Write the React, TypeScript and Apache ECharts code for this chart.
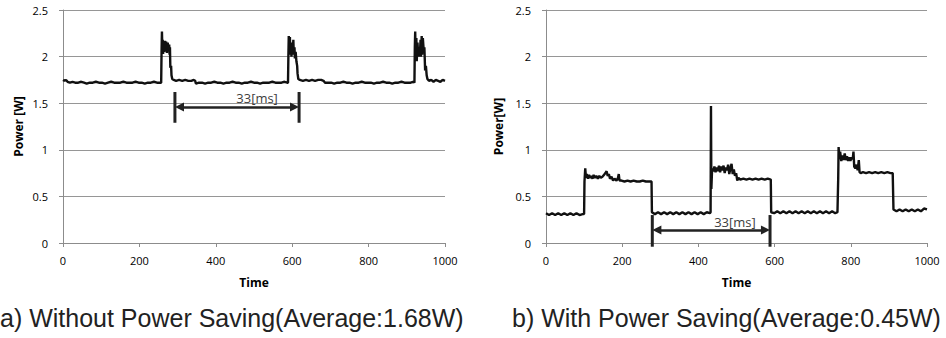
import React, { useEffect, useRef } from "react";
import * as echarts from "echarts";

// ---------- data ----------
const captionA = "a) Without Power Saving(Average:1.68W)";
const captionB = "b) With Power Saving(Average:0.45W)";
const yNameA = "Power [W]";
const yNameB = "Power[W]";
const xName = "Time";
const spanLabel = "33[ms]";

const xMin = 0;
const xMax = 1000;
const xStep = 200;
const yMin = 0;
const yMax = 2.5;
const yStep = 0.5;

// (a) Without power saving: [time, power W]
const powerA: [number, number][] = [
  [0, 1.75], [4, 1.74], [8, 1.75], [12, 1.73], [18, 1.72], [25, 1.73], [32, 1.72], [40, 1.72], [48, 1.73], [55, 1.72],
  [62, 1.71], [70, 1.72], [78, 1.72], [86, 1.73], [94, 1.72], [102, 1.72], [110, 1.71], [118, 1.72], [126, 1.73], [134, 1.72],
  [142, 1.72], [150, 1.72], [158, 1.73], [166, 1.72], [174, 1.72], [182, 1.72], [190, 1.73], [198, 1.72], [206, 1.72], [214, 1.71],
  [222, 1.72], [230, 1.72], [238, 1.73], [246, 1.72], [254, 1.72], [257, 1.72], [258, 2.05], [259, 2.27], [260, 2.1], [261, 2.18],
  [262, 2.03], [264, 2.16], [265, 2.05], [267, 2.17], [268, 2.08], [270, 2.16], [272, 2.04], [274, 2.15], [276, 2.1], [278, 2.13],
  [279, 2.02], [280, 2.1], [281, 1.88], [283, 1.9], [284, 1.8], [286, 1.76], [290, 1.75], [296, 1.74], [304, 1.75], [312, 1.74],
  [320, 1.75], [328, 1.74], [336, 1.74], [342, 1.75], [346, 1.74], [348, 1.71], [356, 1.72], [364, 1.72], [372, 1.71], [380, 1.72],
  [388, 1.72], [396, 1.73], [404, 1.72], [412, 1.72], [420, 1.71], [428, 1.72], [436, 1.72], [444, 1.73], [452, 1.72], [460, 1.72],
  [468, 1.71], [476, 1.72], [484, 1.72], [492, 1.73], [500, 1.72], [508, 1.72], [516, 1.71], [524, 1.72], [532, 1.72], [540, 1.72],
  [548, 1.73], [556, 1.72], [564, 1.72], [572, 1.72], [580, 1.73], [587, 1.72], [589, 1.72], [590, 2.0], [591, 2.22], [592, 2.05],
  [594, 2.21], [595, 2.02], [597, 2.15], [598, 2.0], [600, 2.12], [601, 2.02], [603, 2.18], [604, 2.05], [606, 2.1], [607, 1.98],
  [609, 2.05], [611, 1.95], [613, 1.9], [614, 1.82], [616, 1.76], [620, 1.75], [628, 1.74], [636, 1.75], [644, 1.74], [652, 1.75],
  [660, 1.74], [668, 1.75], [676, 1.75], [682, 1.74], [686, 1.72], [694, 1.72], [702, 1.72], [710, 1.71], [718, 1.72], [726, 1.72],
  [734, 1.73], [742, 1.72], [750, 1.72], [758, 1.71], [766, 1.72], [774, 1.72], [782, 1.73], [790, 1.72], [798, 1.72], [806, 1.72],
  [814, 1.71], [822, 1.72], [830, 1.72], [838, 1.73], [846, 1.72], [854, 1.72], [862, 1.71], [870, 1.72], [878, 1.72], [886, 1.73],
  [894, 1.72], [902, 1.72], [910, 1.72], [918, 1.73], [920, 1.72], [921, 2.1], [922, 2.27], [923, 2.0], [925, 2.2], [926, 1.95],
  [928, 2.15], [930, 2.0], [932, 2.1], [934, 2.0], [936, 2.18], [937, 2.0], [939, 2.22], [940, 2.02], [942, 2.2], [944, 2.08],
  [946, 2.1], [948, 1.85], [950, 1.9], [952, 1.8], [954, 1.76], [958, 1.74], [964, 1.75], [970, 1.73], [976, 1.75], [982, 1.74],
  [988, 1.73], [994, 1.75], [1000, 1.74],
];

// (b) With power saving: [time, power W]
const powerB: [number, number][] = [
  [0, 0.32], [8, 0.3], [16, 0.32], [24, 0.3], [32, 0.32], [40, 0.3], [48, 0.32], [56, 0.3], [64, 0.32], [72, 0.3],
  [80, 0.32], [88, 0.3], [96, 0.31], [100, 0.31], [101, 0.66], [103, 0.8], [105, 0.7], [107, 0.74], [110, 0.69], [113, 0.73],
  [116, 0.7], [119, 0.72], [122, 0.69], [125, 0.73], [128, 0.7], [132, 0.72], [136, 0.69], [140, 0.72], [144, 0.7], [148, 0.71],
  [152, 0.73], [156, 0.75], [159, 0.77], [162, 0.72], [165, 0.74], [168, 0.69], [172, 0.71], [176, 0.67], [180, 0.69], [185, 0.67],
  [189, 0.7], [191, 0.74], [193, 0.67], [198, 0.67], [206, 0.66], [214, 0.67], [222, 0.66], [230, 0.67], [238, 0.66], [246, 0.66],
  [254, 0.67], [262, 0.66], [270, 0.66], [277, 0.66], [278, 0.33], [286, 0.31], [294, 0.33], [302, 0.31], [310, 0.33], [318, 0.31],
  [326, 0.33], [334, 0.31], [342, 0.33], [350, 0.31], [358, 0.33], [366, 0.31], [374, 0.33], [382, 0.31], [390, 0.33], [398, 0.31],
  [406, 0.33], [414, 0.31], [422, 0.33], [430, 0.32], [432, 0.33], [433, 1.47], [434, 0.58], [436, 0.8], [439, 0.77], [442, 0.82],
  [445, 0.76], [448, 0.81], [451, 0.77], [454, 0.83], [457, 0.76], [460, 0.82], [463, 0.78], [466, 0.83], [469, 0.75], [472, 0.81],
  [475, 0.78], [478, 0.84], [481, 0.74], [484, 0.8], [487, 0.85], [490, 0.74], [493, 0.79], [496, 0.72], [499, 0.75], [502, 0.67],
  [505, 0.7], [510, 0.68], [518, 0.69], [526, 0.68], [534, 0.69], [542, 0.68], [550, 0.69], [558, 0.68], [566, 0.69], [574, 0.68],
  [582, 0.69], [590, 0.68], [591, 0.33], [599, 0.32], [607, 0.34], [615, 0.32], [623, 0.34], [631, 0.32], [639, 0.34], [647, 0.32],
  [655, 0.34], [663, 0.32], [671, 0.34], [679, 0.32], [687, 0.34], [695, 0.32], [703, 0.34], [711, 0.32], [719, 0.34], [727, 0.32],
  [735, 0.34], [743, 0.32], [751, 0.34], [759, 0.32], [765, 0.33], [767, 0.7], [768, 1.03], [770, 0.9], [772, 0.98], [775, 0.88],
  [778, 0.94], [781, 0.89], [784, 0.96], [787, 0.89], [790, 0.93], [793, 0.88], [796, 0.92], [799, 0.88], [802, 0.92], [805, 0.9],
  [807, 0.98], [809, 0.82], [812, 0.8], [815, 0.84], [818, 0.78], [821, 0.89], [823, 0.76], [826, 0.75], [832, 0.76], [840, 0.75],
  [848, 0.76], [856, 0.75], [864, 0.76], [872, 0.75], [880, 0.76], [888, 0.75], [896, 0.76], [904, 0.75], [910, 0.75], [912, 0.36],
  [920, 0.34], [928, 0.36], [936, 0.34], [944, 0.36], [952, 0.34], [960, 0.36], [968, 0.34], [976, 0.36], [984, 0.34], [992, 0.37],
  [1000, 0.36],
];

// 33 ms span markers: bar times, bar bottom/top power, arrow power, label centre
const spanA = { left: 293, right: 618, low: 1.29, high: 1.62, arrow: 1.46, textX: 508, textY: 1.56 };
const spanB = { left: 279, right: 588, low: -0.04, high: 0.3, arrow: 0.14, textX: 496, textY: 0.23 };

// ---------- styling ----------
const FONT = "Open Sans";
const CAPTION_FONT = "Liberation Sans";
const GRID_COLOR = "#969696";
const AXIS_COLOR = "#8c8c8c";
const INK = "#111";

const plain = (v: number) => String(v);

function axesFor(i: number, yName: string, nameGap: number) {
  const x = {
    gridIndex: i,
    type: "value",
    min: xMin,
    max: xMax,
    interval: xStep,
    name: xName,
    nameLocation: "middle",
    nameGap: 33,
    nameTextStyle: { fontWeight: "bold", fontSize: 12, color: "#000", fontFamily: FONT },
    axisLine: { show: true, lineStyle: { color: AXIS_COLOR, width: 1 } },
    axisTick: { show: true, inside: false, length: 4, lineStyle: { color: AXIS_COLOR } },
    axisLabel: { margin: 12, fontSize: 11, color: "#000", fontFamily: FONT, formatter: plain },
    splitLine: { show: false },
  };
  const y = {
    gridIndex: i,
    type: "value",
    min: yMin,
    max: yMax,
    interval: yStep,
    name: yName,
    nameLocation: "middle",
    nameGap,
    nameTextStyle: { fontWeight: "bold", fontSize: 12, color: "#000", fontFamily: FONT },
    axisLine: { show: true, lineStyle: { color: AXIS_COLOR, width: 1 } },
    axisTick: { show: true, inside: false, length: 4, lineStyle: { color: AXIS_COLOR } },
    axisLabel: { margin: 15, fontSize: 11, color: "#000", fontFamily: FONT, formatter: plain },
    splitLine: { show: true, lineStyle: { color: GRID_COLOR, width: 1 } },
  };
  return { x, y };
}

function seriesFor(i: number, data: [number, number][], span: typeof spanA) {
  const inset = 12;
  const barStyle = { color: "#222", width: 3 };
  return [
    {
      type: "line",
      xAxisIndex: i,
      yAxisIndex: i,
      data,
      showSymbol: false,
      symbol: "none",
      lineStyle: { color: INK, width: 2.4 },
      z: 3,
      markLine: {
        silent: true,
        symbol: ["triangle", "triangle"],
        symbolSize: [9, 9],
        label: { show: false },
        lineStyle: { color: "#222", width: 2.5, type: "solid" },
        data: [[{ coord: [span.left + inset, span.arrow] }, { coord: [span.right - inset, span.arrow] }]],
      },
      markPoint: {
        silent: true,
        symbol: "rect",
        symbolSize: 1,
        itemStyle: { color: "rgba(0,0,0,0)" },
        label: { show: true, position: "inside", formatter: spanLabel, color: "#404040", fontSize: 13, fontFamily: FONT },
        data: [{ coord: [span.textX, span.textY] }],
      },
    },
    {
      type: "line",
      xAxisIndex: i,
      yAxisIndex: i,
      clip: false,
      showSymbol: false,
      symbol: "none",
      lineStyle: barStyle,
      data: [[span.left, span.low], [span.left, span.high]],
      z: 4,
    },
    {
      type: "line",
      xAxisIndex: i,
      yAxisIndex: i,
      clip: false,
      showSymbol: false,
      symbol: "none",
      lineStyle: barStyle,
      data: [[span.right, span.low], [span.right, span.high]],
      z: 4,
    },
  ];
}

export default function App() {
  const ref = useRef<HTMLDivElement>(null);
  useEffect(() => {
    if (!ref.current) return;
    const chart = echarts.init(ref.current, undefined, { renderer: "svg" });
    const a = axesFor(0, yNameA, 39);
    const b = axesFor(1, yNameB, 42);
    chart.setOption({
      animation: false,
      backgroundColor: "#fff",
      grid: [
        { left: 63, top: 10, width: 382, height: 233, containLabel: false },
        { left: 546, top: 10, width: 381, height: 233, containLabel: false },
      ],
      xAxis: [a.x, b.x],
      yAxis: [a.y, b.y],
      series: [...seriesFor(0, powerA, spanA), ...seriesFor(1, powerB, spanB)],
      graphic: [
        {
          type: "text",
          x: 0,
          y: 318,
          silent: true,
          style: { text: captionA, fontSize: 25, fontFamily: CAPTION_FONT, fill: "#222", align: "left", verticalAlign: "middle" },
        },
        {
          type: "text",
          x: 512,
          y: 318,
          silent: true,
          style: { text: captionB, fontSize: 25, fontFamily: CAPTION_FONT, fill: "#222", align: "left", verticalAlign: "middle" },
        },
      ],
    });
    return () => chart.dispose();
  }, []);
  return <div ref={ref} style={{ position: "absolute", left: 0, top: 0, width: 946, height: 338 }} />;
}
